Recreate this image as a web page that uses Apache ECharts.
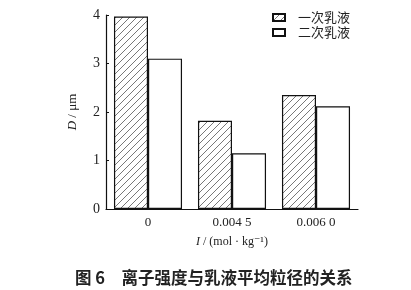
<!DOCTYPE html>
<html><head><meta charset="utf-8">
<script src="https://cdn.jsdelivr.net/npm/echarts@6/dist/echarts.min.js"></script>
<style>html,body{margin:0;padding:0;background:#fff}#c{width:411px;height:290px}</style>
</head><body><div id="c"></div>
<script>
var categories = ['0', '0.004 5', '0.006 0'];
var seriesNames = ['一次乳液', '二次乳液'];
var firstEmulsion = [3.97, 1.82, 2.35];
var secondEmulsion = [3.1, 1.15, 2.12];
var yTicks = [0, 1, 2, 3, 4];

var T = 7;
var pc = document.createElement('canvas');
pc.width = T; pc.height = T;
var ctx = pc.getContext('2d');
ctx.fillStyle = '#fff'; ctx.fillRect(0, 0, T, T);
ctx.strokeStyle = '#555'; ctx.lineWidth = 0.8;
ctx.beginPath(); ctx.moveTo(-1, T + 1); ctx.lineTo(T + 1, -1); ctx.stroke();
ctx.beginPath(); ctx.moveTo(-1, 1); ctx.lineTo(1, -1); ctx.stroke();
ctx.beginPath(); ctx.moveTo(T - 1, T + 1); ctx.lineTo(T + 1, T - 1); ctx.stroke();

var serif = '"Liberation Serif", "DejaVu Serif", serif';
var chart = echarts.init(document.getElementById('c'));
chart.setOption({
  animation: false,
  backgroundColor: '#fff',
  title: {
    text: '图 6　离子强度与乳液平均粒径的关系',
    left: 70, top: 264,
    textStyle: { fontFamily: '"Noto Sans CJK SC"', fontSize: 16.5, fontWeight: 'bold', color: '#222' }
  },
  legend: {
    left: 267, top: 6, orient: 'vertical', itemWidth: 12, itemHeight: 7, itemGap: 2,
    icon: 'rect',
    textStyle: { fontFamily: '"Noto Sans CJK SC"', fontSize: 13, color: '#222', padding: [0, 0, 0, 8] },
    data: seriesNames
  },
  grid: { left: 106, right: 53, top: 15, bottom: 81 },
  xAxis: {
    type: 'category', data: categories,
    axisLine: { lineStyle: { color: '#111', width: 1.2 } },
    axisTick: { show: false },
    axisLabel: { fontFamily: serif, fontSize: 13, color: '#222', margin: 7 },
    name: '{i|I} / (mol · kg⁻¹)', nameLocation: 'middle', nameGap: 27,
    nameTextStyle: { fontFamily: serif, fontSize: 12, color: '#222', rich: { i: { fontStyle: 'italic', fontFamily: serif, fontSize: 12, color: '#222' } } }
  },
  yAxis: {
    type: 'value', min: yTicks[0], max: yTicks[yTicks.length - 1], interval: 1,
    splitLine: { show: false },
    axisLine: { show: true, lineStyle: { color: '#111', width: 1.2 } },
    axisTick: { show: true, inside: true, length: 3, lineStyle: { color: '#111' } },
    axisLabel: { fontFamily: serif, fontSize: 14, color: '#222', margin: 6 },
    name: '{i|D} / μm', nameLocation: 'middle', nameGap: 27,
    nameTextStyle: { fontFamily: serif, fontSize: 13, color: '#222', rich: { i: { fontStyle: 'italic', fontFamily: serif, fontSize: 13, color: '#222' } } }
  },
  series: [
    { name: seriesNames[0], type: 'bar', data: firstEmulsion, barGap: '0%', barCategoryGap: '19%',
      itemStyle: { color: { image: pc, repeat: 'repeat' }, borderColor: '#111', borderWidth: 1.2 } },
    { name: seriesNames[1], type: 'bar', data: secondEmulsion,
      itemStyle: { color: '#fff', borderColor: '#111', borderWidth: 1.2 } }
  ]
});
</script></body></html>
